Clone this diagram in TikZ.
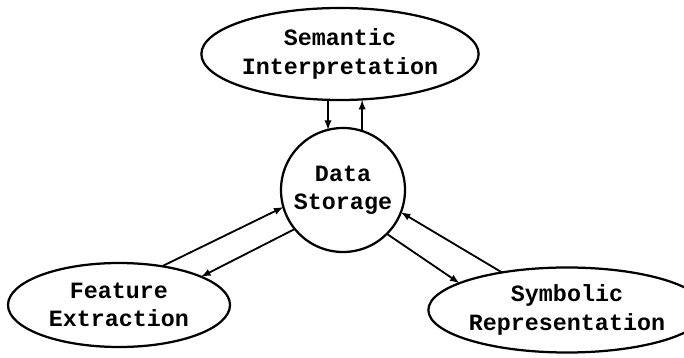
\documentclass[tikz,border=0pt]{standalone}
\usepackage{fontspec}
\setmonofont{Liberation Mono}
\usetikzlibrary{shapes.geometric}

\begin{document}
\begin{tikzpicture}[blob/.style={ellipse,draw,line width=1.6pt,inner sep=0pt,outer sep=0pt,align=center,
        font=\ttfamily\bfseries\fontsize{16.6}{20}\selectfont},
    flow/.style={-latex,line width=1.3pt}]
		\useasboundingbox (0,0) rectangle (17.1,8.925);

		\node[blob,minimum width=6.15cm,minimum height=2.3cm] (sem) at (8.5,7.575) {Semantic\\Interpretation};
		\node[blob,circle,minimum size=3.1cm] (store) at (8.575,4.175) {Data\\Storage};
		\node[blob,minimum width=5.55cm,minimum height=2.1cm] (feat) at (2.975,1.3) {Feature\\Extraction};
		\node[blob,minimum width=5.8cm,minimum height=2.125cm] (symb) at (14.175,1.175) {Symbolic\\Representation};

		% arrows
		\draw[flow] (sem.south -| store.104) -- (store.104);
		\draw[flow] (store.72) -- (sem.south -| store.72);
		\draw[flow] (feat.42) -- (store.196);
		\draw[flow] (store.219) -- (feat.19);
		\draw[flow] (symb.150) -- (store.339);
		\draw[flow] (store.315) -- (symb.166);
    \end{tikzpicture}
\end{document}
